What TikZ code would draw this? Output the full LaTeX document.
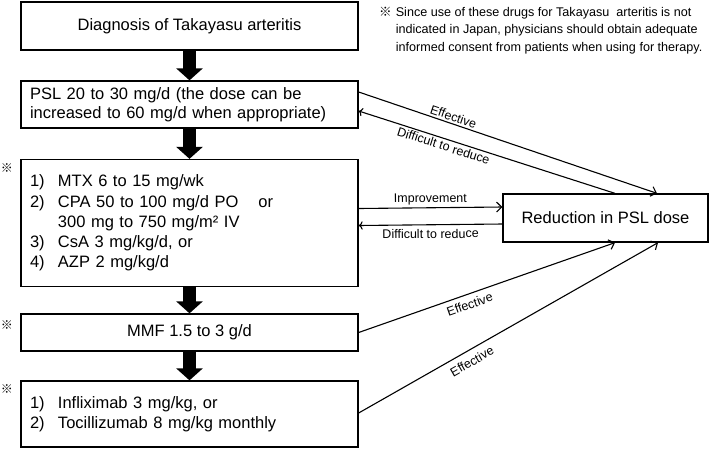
\documentclass[tikz,border=0pt]{standalone}
\usepackage{fontspec}
\setmainfont{Liberation Sans}
\newfontfamily\cjk{Noto Sans CJK JP}
\usetikzlibrary{arrows.meta}
\begin{document}
\begin{tikzpicture}[x=1pt,y=-1pt,
  box/.style={draw, line width=1.3pt, minimum width=337pt, inner sep=0pt,
    font=\fontsize{16.5}{19}\selectfont},
  listbox/.style={box, align=left, text width=319pt},
  bigarrow/.style={line width=13pt, -{Triangle[width=26pt,length=12pt]}},
  thinarrow/.style={line width=1.1pt, -{Straight Barb[length=5pt,width=10pt]}},
  lbl/.style={font=\fontsize{12.5}{14}\selectfont, sloped, inner sep=2pt},
  refmark/.style={font=\cjk\fontsize{12}{12}\selectfont, inner sep=0pt}
]
\useasboundingbox (0,0) rectangle (709,448);

% left column
\node[box, minimum height=48pt] (b1) at (189.5,26) {Diagnosis of Takayasu arteritis};
\node[listbox, minimum height=47pt] (b2) at (189.5,104.5)
  {PSL 20 to 30 mg/d (the dose can be\\increased to 60 mg/d when appropriate)};
\node[listbox, minimum height=127pt, font=\fontsize{16.5}{20.2}\selectfont] (b3) at (189.5,223)
  {\makebox[28pt][l]{1)}MTX 6 to 15 mg/wk\\
   \makebox[28pt][l]{2)}CPA 50 to 100 mg/d PO\hspace{20pt}or\\
   \hspace*{28pt}300 mg to 750 mg/m² IV\\
   \makebox[28pt][l]{3)}CsA 3 mg/kg/d, or\\
   \makebox[28pt][l]{4)}AZP 2 mg/kg/d};
\node[box, minimum height=37pt] (b4) at (189.5,332.5) {MMF 1.5 to 3 g/d};
\node[listbox, minimum height=66pt, font=\fontsize{16.5}{20}\selectfont] (b5) at (189.5,414)
  {\makebox[28pt][l]{1)}Infliximab 3 mg/kg, or\\
   \makebox[28pt][l]{2)}Tocillizumab 8 mg/kg monthly};

% right box
\node[box, minimum width=205pt, minimum height=48pt] (red) at (605.5,218) {Reduction in PSL dose};

% reference marks
\node[refmark] (m3) at (7,168) {※};
\node[refmark] (m4) at (7,325) {※};
\node[refmark] (m5) at (7,389) {※};

% note
\node[anchor=north west, inner sep=0pt, font=\fontsize{12.6}{17.5}\selectfont] (note) at (379,4)
  {\begin{tabular}{@{}l@{\hspace{4pt}}l@{}}
   {\cjk ※} & Since use of these drugs for Takayasu\ \ arteritis is not\\
   & indicated in Japan, physicians should obtain adequate\\
   & informed consent from patients when using for therapy.
   \end{tabular}};

% thick arrows
\draw[bigarrow] (b1.south) -- (b2.north);
\draw[bigarrow] (b2.south) -- (b3.north);
\draw[bigarrow] (b3.south) -- (b4.north);
\draw[bigarrow] (b4.south) -- (b5.north);

% thin connectors
\draw[thinarrow] ([yshift=12.5pt]b2.east) -- ([xshift=51.5pt]red.north)
  node[lbl, pos=0.31, above] {Effective};
\draw[thinarrow, <-] ([yshift=-6.5pt]b2.east) -- ([xshift=9.5pt]red.north)
  node[lbl, pos=0.34, below] {Difficult to reduce};
\draw[thinarrow] ([yshift=14.5pt]b3.east) -- ([yshift=11pt]red.west)
  node[lbl, midway, above] {Improvement};
\draw[thinarrow, <-] ([yshift=-2.5pt]b3.east) -- ([yshift=-6pt]red.west)
  node[lbl, midway, below, inner sep=4pt] {Difficult to reduce};
\draw[thinarrow] (b4.east) -- ([xshift=9.5pt]red.south)
  node[lbl, pos=0.42, below, inner sep=5pt] {Effective};
\draw[thinarrow] ([yshift=1pt]b5.east) -- ([xshift=52.5pt]red.south)
  node[lbl, pos=0.36, below, inner sep=6pt] {Effective};
\end{tikzpicture}
\end{document}
